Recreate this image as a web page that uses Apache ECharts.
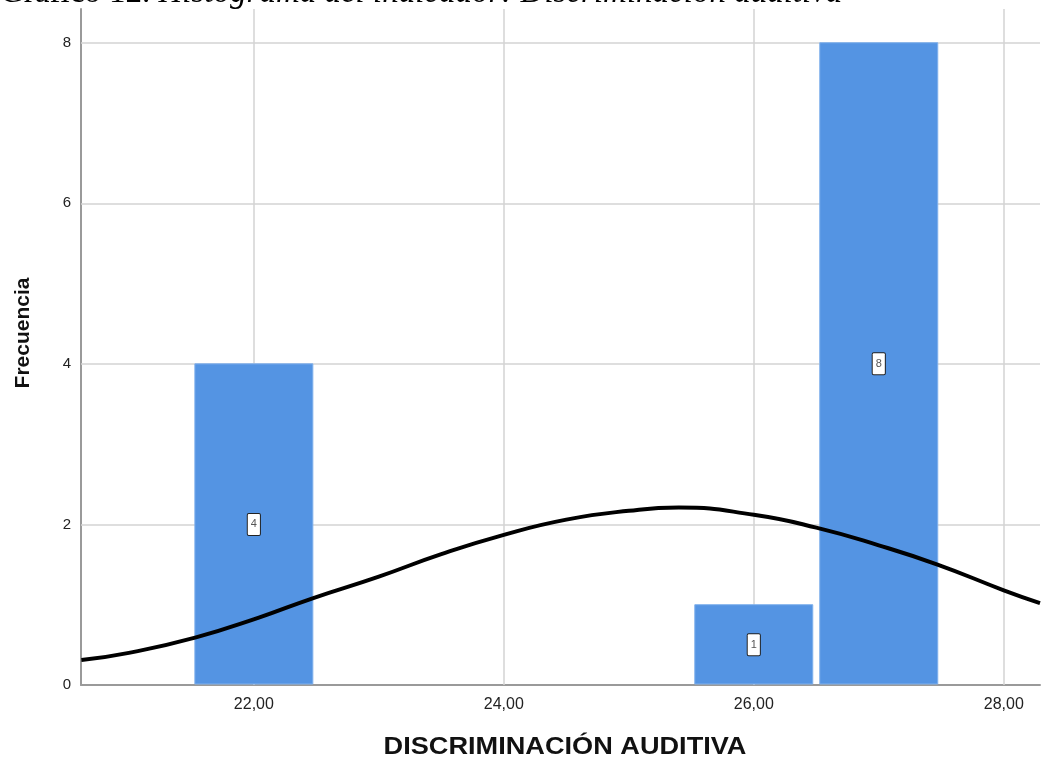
<!DOCTYPE html>
<html>
<head>
<meta charset="utf-8">
<script src="https://cdn.jsdelivr.net/npm/echarts@6/dist/echarts.min.js"></script>
<style>html,body{margin:0;padding:0;background:#fff;}#c{width:1043px;height:765px;}</style>
</head>
<body>
<div id="c"></div>
<script>
// ---- data ----
const binCenters = [22, 26, 27];
const binCounts = [4, 1, 8];
const binWidth = 1;
const curveX = [20.62, 21.0, 21.53, 22.04, 22.47, 23.0, 23.5, 24.0, 24.5, 25.0, 25.4, 26.0, 26.5, 27.0, 27.47, 28.0, 28.29];
const curveY = [0.31, 0.40, 0.59, 0.84, 1.08, 1.35, 1.63, 1.87, 2.06, 2.17, 2.21, 2.12, 1.96, 1.74, 1.50, 1.18, 1.02];
const xTicks = [22, 24, 26, 28];
const yTicks = [0, 2, 4, 6, 8];
const xMin = 20.617, xMax = 28.29;
const yMin = 0, yMax = 8.42;
const titleMain = 'Gráfico 12.';
const titleRest = ' Histograma del indicador: Discriminación auditiva';
const xName = 'DISCRIMINACIÓN AUDITIVA';
const yName = 'Frecuencia';

const near = (v, arr) => arr.some(t => Math.abs(t - v) < 1e-6);
const chart = echarts.init(document.getElementById('c'), null, {renderer: 'canvas'});
const gridColor = '#d3d3d3';

const option = {
  animation: false,
  backgroundColor: '#ffffff',
  grid: {left: 81, right: 0, top: 9, bottom: 80, containLabel: false},
  xAxis: {
    type: 'value', min: xMin, max: xMax,
    axisLine: {show: true, onZero: false, lineStyle: {color: '#9a9a9a', width: 2}},
    axisTick: {show: false},
    splitLine: {show: false},
    axisLabel: {
      margin: 12, color: '#222', fontSize: 16, fontFamily: 'Liberation Sans, Arial, sans-serif',
      formatter: v => near(v, xTicks) ? v.toFixed(2).replace('.', ',') : ''
    }
  },
  yAxis: {
    type: 'value', min: yMin, max: yMax,
    axisLine: {show: true, onZero: false, lineStyle: {color: '#9a9a9a', width: 2}},
    axisTick: {show: false},
    splitLine: {show: false},
    axisLabel: {
      margin: 10, color: '#222', fontSize: 15, fontFamily: 'Liberation Sans, Arial, sans-serif',
      formatter: v => near(v, yTicks) ? String(v) : ''
    }
  },
  series: [
    {
      type: 'line', data: [], silent: true, z: 1,
      markLine: {
        silent: true, symbol: 'none', animation: false, z: 1,
        label: {show: false},
        lineStyle: {color: gridColor, width: 1.5, type: 'solid'},
        data: xTicks.map(t => ({xAxis: t})).concat(yTicks.filter(t => t > 0).map(t => ({yAxis: t})))
      }
    },
    {
      type: 'custom', z: 6,
      data: binCenters.map((c, i) => [c, binCounts[i]]),
      renderItem: function (params, api) {
        const c = api.value(0), n = api.value(1);
        const pTop = api.coord([c - binWidth / 2, n]);
        const pBot = api.coord([c + binWidth / 2, 0]);
        const inset = 3.5;
        const x0 = pTop[0] + inset, x1 = pBot[0] - inset;
        const mid = api.coord([c, n / 2]);
        return {
          type: 'group',
          children: [
            {type: 'rect', shape: {x: x0, y: pTop[1], width: x1 - x0, height: pBot[1] - pTop[1] - 1},
             style: {fill: '#5494E3', stroke: '#7fb0ec', lineWidth: 1}},
            {type: 'text', x: mid[0], y: mid[1], z2: 10,
             style: {text: String(n), align: 'center', verticalAlign: 'middle', fill: '#555',
                     font: '11px "Liberation Sans", Arial, sans-serif', backgroundColor: '#ffffff',
                     borderColor: '#222', borderWidth: 1, borderRadius: 1, padding: [5, 3, 5, 3]}}
          ]
        };
      }
    },
    {
      type: 'line', z: 8, smooth: true, showSymbol: false, silent: true,
      data: curveX.map((x, i) => [x, curveY[i]]),
      lineStyle: {color: '#000', width: 4}
    }
  ],
  graphic: [
    {type: 'text', left: 0, top: -23, silent: true,
     style: {text: '{a|' + titleMain + '}{b|' + titleRest + '}',
             rich: {a: {font: '33px "Liberation Serif", "Times New Roman", serif', fill: '#000'},
                    b: {font: 'italic 33px "Liberation Serif", "Times New Roman", serif', fill: '#000'}}}},
    {type: 'text', x: 565, y: 748, scaleX: 1.18, silent: true,
     style: {text: xName, align: 'center', verticalAlign: 'middle', fill: '#111',
             font: 'bold 23px "Liberation Sans", Arial, sans-serif'}},
    {type: 'text', x: 23, y: 333, rotation: Math.PI / 2, silent: true,
     style: {text: yName, align: 'center', verticalAlign: 'middle', fill: '#111',
             font: 'bold 21px "Liberation Sans", Arial, sans-serif'}}
  ]
};
chart.setOption(option);
</script>
</body>
</html>
